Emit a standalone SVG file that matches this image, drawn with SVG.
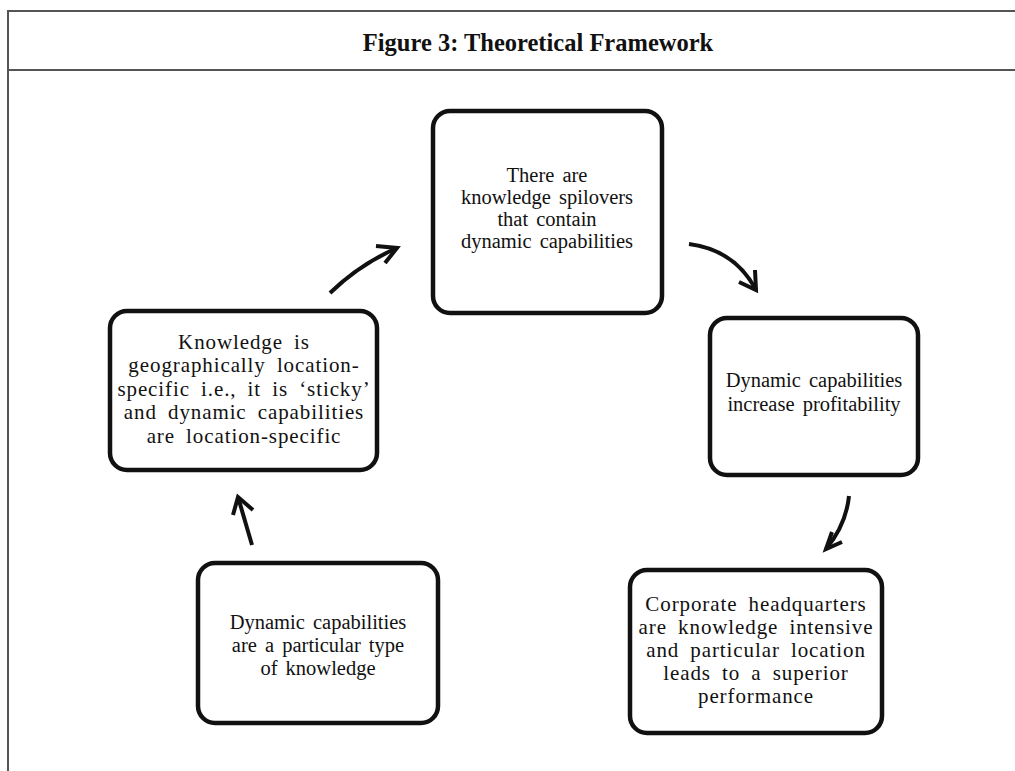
<svg xmlns="http://www.w3.org/2000/svg" width="1015" height="771" viewBox="0 0 1015 771">
  <style>
    .frame { fill: none; stroke: #555; stroke-width: 2; }
    .box { fill: #fff; stroke: #111; stroke-width: 4.5; }
    .label { font-family: "Liberation Serif", "DejaVu Serif", serif; font-size: 20.5px; fill: #111; text-anchor: middle; word-spacing: 3px; }
    .label.wide { font-size: 21px; letter-spacing: 0.9px; word-spacing: 5px; }
    .title { font-family: "Liberation Serif", "DejaVu Serif", serif; font-size: 24.5px; font-weight: bold; fill: #111; text-anchor: middle; }
    .arrow { fill: none; stroke: #111; stroke-width: 4; stroke-linecap: butt; stroke-linejoin: miter; }
  </style>

  <rect width="1015" height="771" fill="#fff"/>

  <!-- table frame with header row -->
  <g id="frame">
    <path class="frame" d="M8 771 V11 H1015 M8 70 H1015"/>
    <text class="title" x="538" y="51">Figure 3: Theoretical Framework</text>
  </g>

  <g id="node-spillovers">
    <rect class="box" x="433" y="111" width="229" height="202" rx="17"/>
    <text class="label" x="547" y="182">There are</text>
    <text class="label" x="547" y="204">knowledge spilovers</text>
    <text class="label" x="547" y="226">that contain</text>
    <text class="label" x="547" y="248">dynamic capabilities</text>
  </g>

  <g id="node-sticky">
    <rect class="box" x="110" y="311" width="267" height="159" rx="17"/>
    <text class="label wide" x="244" y="349">Knowledge is</text>
    <text class="label wide" x="244" y="372">geographically location-</text>
    <text class="label wide" x="244" y="396">specific i.e., it is ‘sticky’</text>
    <text class="label wide" x="244" y="419">and dynamic capabilities</text>
    <text class="label wide" x="244" y="443">are location-specific</text>
  </g>

  <g id="node-profitability">
    <rect class="box" x="710" y="318" width="208" height="157" rx="17"/>
    <text class="label" x="814" y="387">Dynamic capabilities</text>
    <text class="label" x="814" y="411">increase profitability</text>
  </g>

  <g id="node-knowledge-type">
    <rect class="box" x="198" y="563" width="240" height="160" rx="17"/>
    <text class="label" x="318" y="629">Dynamic capabilities</text>
    <text class="label" x="318" y="652">are a particular type</text>
    <text class="label" x="318" y="675">of knowledge</text>
  </g>

  <g id="node-headquarters">
    <rect class="box" x="630" y="570" width="252" height="163" rx="17"/>
    <text class="label wide" x="756" y="611">Corporate headquarters</text>
    <text class="label wide" x="756" y="634">are knowledge intensive</text>
    <text class="label wide" x="756" y="657">and particular location</text>
    <text class="label wide" x="756" y="680">leads to a superior</text>
    <text class="label wide" x="756" y="703">performance</text>
  </g>

  <!-- hand-drawn style connectors -->
  <g id="connectors">
    <path class="arrow" d="M330 293 Q360 264 397 248"/>
    <path class="arrow" d="M376 246 L397 248 L385 263"/>

    <path class="arrow" d="M689 244 Q735 250 756 290"/>
    <path class="arrow" d="M739 282 L756 290 L755 270"/>

    <path class="arrow" d="M849 496 Q846 525 826 549"/>
    <path class="arrow" d="M842 542 L826 549 L832 532"/>

    <path class="arrow" d="M252 545 L238 497"/>
    <path class="arrow" d="M233 515 L238 497 L253 510"/>
  </g>
</svg>
